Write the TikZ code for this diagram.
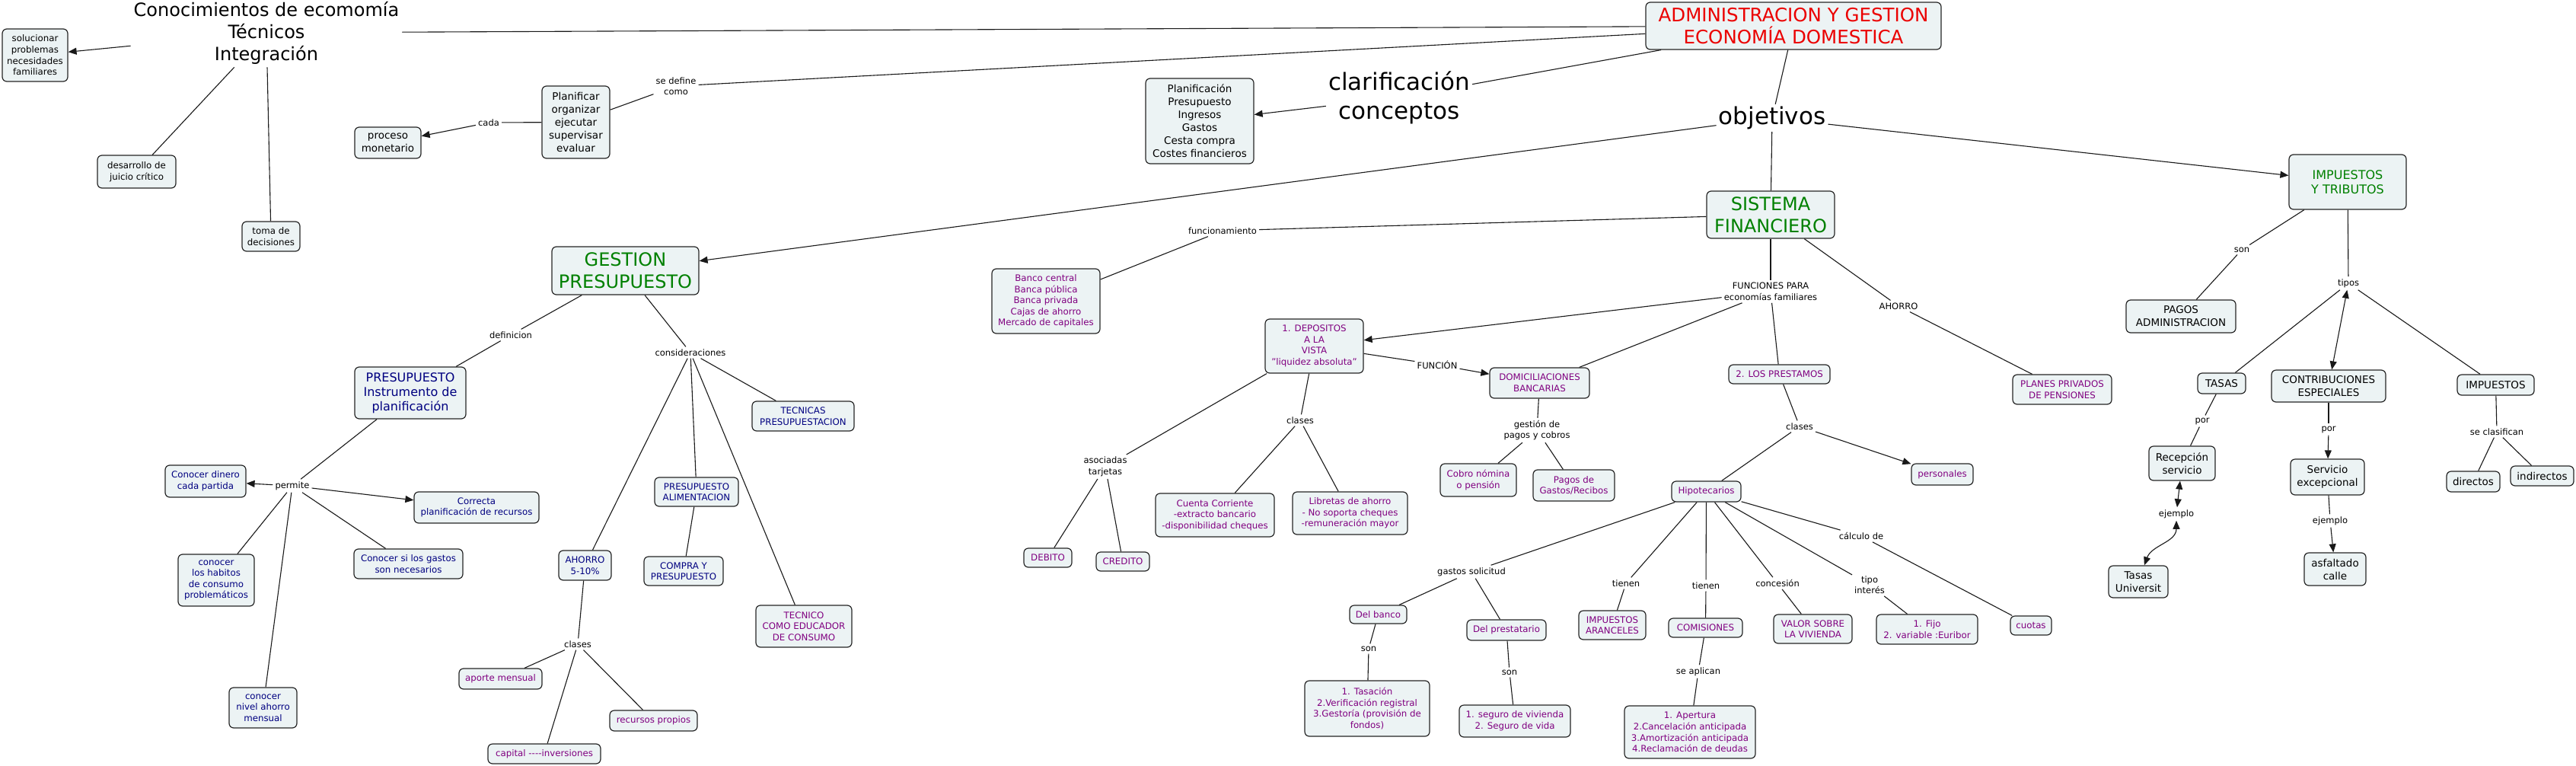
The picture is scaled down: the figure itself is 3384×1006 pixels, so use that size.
\documentclass[tikz,border=0pt]{standalone}
\usepackage{fontspec}
\setmainfont{DejaVu Sans}
\usetikzlibrary{arrows.meta}
\definecolor{boxfill}{RGB}{236,243,244}
\definecolor{cpur}{RGB}{128,0,128}
\definecolor{cnavy}{RGB}{0,0,128}
\definecolor{cgreen}{RGB}{0,128,0}
\definecolor{cred}{RGB}{235,0,0}
\newcommand{\fsS}{\fontsize{11.8}{14.6}\selectfont}
\newcommand{\fsLb}{\fontsize{11.5}{14.5}\selectfont}
\newcommand{\fsM}{\fontsize{13.5}{17}\selectfont}
\newcommand{\fsB}{\fontsize{16}{19}\selectfont}
\newcommand{\fsH}{\fontsize{24}{29}\selectfont}
\newcommand{\fsX}{\fontsize{31}{38}\selectfont}
\begin{document}
\begin{tikzpicture}[x=1pt,y=-1pt,
  box/.style={draw=black!85, line width=1.2pt, rounded corners=6pt, fill=boxfill, align=center, inner sep=2pt, text=black, font=\fsS},
  sz/.style 2 args={minimum width=#1, minimum height=#2},
  pur/.style={text=cpur}, nav/.style={text=cnavy},
  lbl/.style={align=center, inner sep=3pt, font=\fsLb},
  con/.style={draw=black!90, line width=1.1pt},
  arr/.style={con, -{Triangle[length=11pt,width=9pt]}},
  darr/.style={con, {Triangle[length=11pt,width=9pt]}-{Triangle[length=11pt,width=9pt]}}]
\fill[white] (0,0) rectangle (3384,1006);
\useasboundingbox (0,0) rectangle (3384,1006);

% ---------- top / left ----------
\node[lbl,font=\fsH,inner sep=4pt] (conoc) at (350,43) {Conocimientos de ecomomía\\Técnicos\\Integración};
\node[box,sz={86}{69}] (soluc) at (46,72.5) {solucionar\\problemas\\necesidades\\familiares};
\node[box,sz={103}{43}] (desarr) at (179.5,225.5) {desarrollo de\\juicio crítico};
\node[box,sz={76}{39}] (toma) at (356,310.5) {toma de\\decisiones};
\node[box,font=\fsM,sz={89}{95}] (planif) at (756.5,160.5) {Planificar\\organizar\\ejecutar\\supervisar\\evaluar};
\node[box,font=\fsM,sz={87}{41}] (proceso) at (509.5,187.5) {proceso\\monetario};
\node[lbl] (cada) at (642,161) {cada};
\node[lbl] (sedef) at (888,113) {se define\\como};
\node[box,font=\fsM,sz={142}{112}] (planific) at (1576,159) {Planificación\\Presupuesto\\Ingresos\\Gastos\\Cesta compra\\Costes financieros};
\node[box,font=\fontsize{24.5}{29}\selectfont,text=cred,sz={388}{62}] (admin) at (2356,34) {ADMINISTRACION Y GESTION\\ECONOMÍA DOMESTICA};
\node[lbl,font=\fsX] (clarif) at (1838,128) {clarificación\\conceptos};
\node[lbl,font=\fsX] (objet) at (2328,155) {objetivos};
\node[box,font=\fsH,text=cgreen,sz={193}{63}] (gestion) at (821.5,355.5) {GESTION\\PRESUPUESTO};
\node[box,font=\fsH,text=cgreen,sz={168}{62}] (sistema) at (2326,282) {SISTEMA\\FINANCIERO};
\node[box,font=\fsB,text=cgreen,sz={154}{72}] (impt) at (3084,239) {IMPUESTOS\\Y TRIBUTOS};

\draw[arr] (conoc) -- (soluc);
\draw[con] (conoc) -- (desarr);
\draw[con] (conoc) -- (toma);
\draw[con] (conoc) -- (admin);
\draw[con] (admin) -- (sedef);
\draw[con] (sedef) -- (planif);
\draw[con] (planif) -- (cada);
\draw[arr] (cada) -- (proceso);
\draw[con] (admin) -- (clarif);
\draw[arr] (clarif) -- (planific);
\draw[con] (admin) -- (objet);
\draw[arr] (objet) -- (gestion);
\draw[arr] (objet) -- (impt);
\draw[con] (objet) -- (sistema);

% ---------- GESTION PRESUPUESTO ----------
\node[lbl] (defin) at (671,440) {definicion};
\node[lbl] (consid) at (907,463) {consideraciones};
\node[box,nav,font=\fsB,sz={146}{68}] (presup) at (539,516) {PRESUPUESTO\\Instrumento de\\planificación};
\node[lbl] (permite) at (384,638) {permite};
\node[box,nav,sz={106}{42}] (dinero) at (270,632) {Conocer dinero\\cada partida};
\node[box,nav,sz={164}{41}] (correcta) at (626,666.5) {Correcta\\planificación de recursos};
\node[box,nav,sz={100}{68}] (habitos) at (284,762) {conocer\\los habitos\\de consumo\\problemáticos};
\node[box,nav,sz={143}{39}] (gastosnec) at (536.5,740.5) {Conocer si los gastos\\son necesarios};
\node[box,nav,sz={89}{53}] (nivel) at (345.5,929.5) {conocer\\nivel ahorro\\mensual};
\node[box,nav,sz={69}{39}] (ahorrop) at (768.5,742.5) {AHORRO\\5-10\%};
\node[lbl] (clasesA) at (759,846) {clases};
\node[box,pur,sz={109}{27}] (aporte) at (657.5,891.5) {aporte mensual};
\node[box,pur,sz={115}{27}] (recursos) at (858.5,946.5) {recursos propios};
\node[box,pur,sz={148}{26}] (capital) at (715,990) {capital {-}{-}{-}{-}inversiones};
\node[box,nav,sz={134}{39}] (tecnicas) at (1055,546.5) {TECNICAS\\PRESUPUESTACION};
\node[box,nav,sz={110}{38}] (alim) at (915,646) {PRESUPUESTO\\ALIMENTACION};
\node[box,nav,sz={104}{38}] (compra) at (898,750) {COMPRA Y\\PRESUPUESTO};
\node[box,pur,sz={126}{55}] (tecnico) at (1056,822.5) {TECNICO\\COMO EDUCADOR\\DE CONSUMO};

\draw[con] (gestion) -- (defin);
\draw[con] (defin) -- (presup);
\draw[con] (presup) -- (permite);
\draw[arr] (permite) -- (dinero);
\draw[arr] (permite) -- (correcta);
\draw[con] (permite) -- (habitos);
\draw[con] (permite) -- (gastosnec);
\draw[con] (permite) -- (nivel);
\draw[con] (gestion) -- (consid);
\draw[con] (consid) -- (ahorrop);
\draw[con] (consid) -- (alim);
\draw[con] (consid) -- (tecnico);
\draw[con] (consid) -- (tecnicas);
\draw[con] (alim) -- (compra);
\draw[con] (ahorrop) -- (clasesA);
\draw[con] (clasesA) -- (aporte);
\draw[con] (clasesA) -- (capital);
\draw[con] (clasesA) -- (recursos);

% ---------- SISTEMA FINANCIERO ----------
\node[lbl] (funcion) at (1606,303) {funcionamiento};
\node[box,pur,sz={142}{85}] (banco) at (1374,395.5) {Banco central\\Banca pública\\Banca privada\\Cajas de ahorro\\Mercado de capitales};
\node[lbl] (funciones) at (2326,383) {FUNCIONES PARA\\economías familiares};
\node[lbl] (ahorrol) at (2494,402) {AHORRO};
\node[box,pur,sz={130}{39}] (planes) at (2709,511.5) {PLANES PRIVADOS\\DE PENSIONES};
\node[box,pur,sz={129}{71}] (depos) at (1726.5,454.5) {1. DEPOSITOS\\A LA\\VISTA\\"liquidez absoluta"};
\node[lbl] (funcionl) at (1888,479) {FUNCIÓN};
\node[box,pur,sz={131}{40}] (domic) at (2022.5,503) {DOMICILIACIONES\\BANCARIAS};
\node[lbl] (gestionl) at (2019,565) {gestión de\\pagos y cobros};
\node[box,pur,sz={100}{43}] (cobro) at (1942,630.5) {Cobro nómina\\o pensión};
\node[box,pur,sz={107}{41}] (pagosr) at (2067.5,637.5) {Pagos de\\Gastos/Recibos};
\node[lbl] (asoc) at (1452,613) {asociadas\\tarjetas};
\node[box,pur,sz={63}{25}] (debito) at (1376.5,732.5) {DEBITO};
\node[box,pur,sz={70}{25}] (credito) at (1475,737.5) {CREDITO};
\node[lbl] (clasesD) at (1708,552) {clases};
\node[box,pur,sz={156}{57}] (cuenta) at (1596,676.5) {Cuenta Corriente\\-extracto bancario\\-disponibilidad cheques};
\node[box,pur,sz={151}{56}] (libretas) at (1773.5,674) {Libretas de ahorro\\- No soporta cheques\\-remuneración mayor};
\node[box,pur,sz={133}{25}] (prest) at (2337.5,491.5) {2. LOS PRESTAMOS};
\node[lbl] (clasesP) at (2364,560) {clases};
\node[box,pur,sz={81}{28}] (personales) at (2551.5,623) {personales};
\node[box,pur,sz={91}{27}] (hipo) at (2241.5,645.5) {Hipotecarios};
\node[lbl] (gastsol) at (1933,751) {gastos solicitud};
\node[box,pur,sz={75}{24}] (delbanco) at (1810.5,807) {Del banco};
\node[box,pur,sz={104}{27}] (delprest) at (1979,827.5) {Del prestatario};
\node[lbl] (sonB) at (1798,852) {son};
\node[lbl] (sonP) at (1983,883) {son};
\node[box,pur,sz={164}{73}] (tasacion) at (1796,930.5) {1. Tasación\\2.Verificación registral\\3.Gestoría (provisión de\\fondos)};
\node[box,pur,sz={146}{42}] (seguro) at (1990,947) {1. seguro de vivienda\\2. Seguro de vida};
\node[lbl] (tienen1) at (2136,766) {tienen};
\node[lbl] (tienen2) at (2241,769) {tienen};
\node[box,pur,sz={88}{38}] (imparan) at (2118,821) {IMPUESTOS\\ARANCELES};
\node[box,pur,sz={97}{25}] (comis) at (2240.5,824.5) {COMISIONES};
\node[lbl] (seapl) at (2231,882) {se aplican};
\node[box,pur,sz={172}{69}] (apertura) at (2220,961.5) {1. Apertura\\2.Cancelación anticipada\\3.Amortización anticipada\\4.Reclamación de deudas};
\node[lbl] (conces) at (2335,766) {concesión};
\node[box,pur,sz={103}{38}] (valor) at (2381.5,826) {VALOR SOBRE\\LA VIVIENDA};
\node[lbl] (tipoint) at (2456,768) {tipo\\interés};
\node[box,pur,sz={133}{39}] (fijo) at (2531.5,826.5) {1. Fijo\\2. variable :Euribor};
\node[lbl] (calculo) at (2445,704) {cálculo de};
\node[box,pur,sz={54}{25}] (cuotas) at (2668,821.5) {cuotas};

\draw[con] (sistema) -- (funcion);
\draw[con] (funcion) -- (banco);
\draw[con] (sistema) -- (funciones);
\draw[arr] (funciones) -- (depos);
\draw[con] (funciones) -- (domic);
\draw[con] (funciones) -- (prest);
\draw[con] (sistema) -- (ahorrol);
\draw[con] (ahorrol) -- (planes);
\draw[con] (depos) -- (funcionl);
\draw[arr] (funcionl) -- (domic);
\draw[con] (domic) -- (gestionl);
\draw[con] (gestionl) -- (cobro);
\draw[con] (gestionl) -- (pagosr);
\draw[con] (depos) -- (asoc);
\draw[con] (asoc) -- (debito);
\draw[con] (asoc) -- (credito);
\draw[con] (depos) -- (clasesD);
\draw[con] (clasesD) -- (cuenta);
\draw[con] (clasesD) -- (libretas);
\draw[con] (prest) -- (clasesP);
\draw[arr] (clasesP) -- (personales);
\draw[con] (clasesP) -- (hipo);
\draw[con] (hipo) -- (gastsol);
\draw[con] (gastsol) -- (delbanco);
\draw[con] (gastsol) -- (delprest);
\draw[con] (delbanco) -- (sonB);
\draw[con] (sonB) -- (tasacion);
\draw[con] (delprest) -- (sonP);
\draw[con] (sonP) -- (seguro);
\draw[con] (hipo) -- (tienen1);
\draw[con] (tienen1) -- (imparan);
\draw[con] (hipo) -- (tienen2);
\draw[con] (tienen2) -- (comis);
\draw[con] (comis) -- (seapl);
\draw[con] (seapl) -- (apertura);
\draw[con] (hipo) -- (conces);
\draw[con] (conces) -- (valor);
\draw[con] (hipo) -- (tipoint);
\draw[con] (tipoint) -- (fijo);
\draw[con] (hipo) -- (calculo);
\draw[con] (calculo) -- (cuotas);

% ---------- IMPUESTOS Y TRIBUTOS ----------
\node[lbl] (sonI) at (2945,328) {son};
\node[box,font=\fsM,sz={144}{43}] (pagosadm) at (2865,415.5) {PAGOS\\ADMINISTRACION};
\node[lbl] (tipos) at (3085,372) {tipos};
\node[box,font=\fsM,sz={63}{27}] (tasas) at (2918.5,503.5) {TASAS};
\node[box,font=\fsM,sz={150}{42}] (contrib) at (3059,507) {CONTRIBUCIONES\\ESPECIALES};
\node[box,font=\fsM,sz={101}{27}] (impuestos) at (3278.5,505.5) {IMPUESTOS};
\node[lbl] (porA) at (2893,553) {por};
\node[box,font=\fsM,sz={87}{45}] (recep) at (2866.5,608.5) {Recepción\\servicio};
\node[lbl] (ejA) at (2859,675) {ejemplo};
\node[box,font=\fsM,sz={78}{42}] (tasasu) at (2809,764) {Tasas\\Universit};
\node[lbl] (porB) at (3059,564) {por};
\node[box,font=\fsM,sz={97}{47}] (servicio) at (3057.5,626.5) {Servicio\\excepcional};
\node[lbl] (ejB) at (3061,684) {ejemplo};
\node[box,font=\fsM,sz={81}{43}] (asfalt) at (3067.5,747.5) {asfaltado\\calle};
\node[lbl] (seclas) at (3280,567) {se clasifican};
\node[box,font=\fsM,sz={70}{27}] (directos) at (3249,632.5) {directos};
\node[box,font=\fsM,sz={83}{26}] (indirectos) at (3339.5,625) {indirectos};

\draw[con] (impt) -- (sonI);
\draw[con] (sonI) -- (pagosadm);
\draw[con] (impt) -- (tipos);
\draw[con] (tipos) -- (tasas);
\draw[darr] (tipos) -- (contrib);
\draw[con] (tipos) -- (impuestos);
\draw[con] (tasas) -- (porA);
\draw[con] (porA) -- (recep);
\draw[darr] (recep) -- (ejA);
\draw[darr] (ejA) to[out=-90,in=70] (tasasu);
\draw[con] (contrib) -- (porB);
\draw[arr] (porB) -- (servicio);
\draw[con] (servicio) -- (ejB);
\draw[arr] (ejB) -- (asfalt);
\draw[con] (impuestos) -- (seclas);
\draw[con] (seclas) -- (directos);
\draw[con] (seclas) -- (indirectos);
\end{tikzpicture}
\end{document}
